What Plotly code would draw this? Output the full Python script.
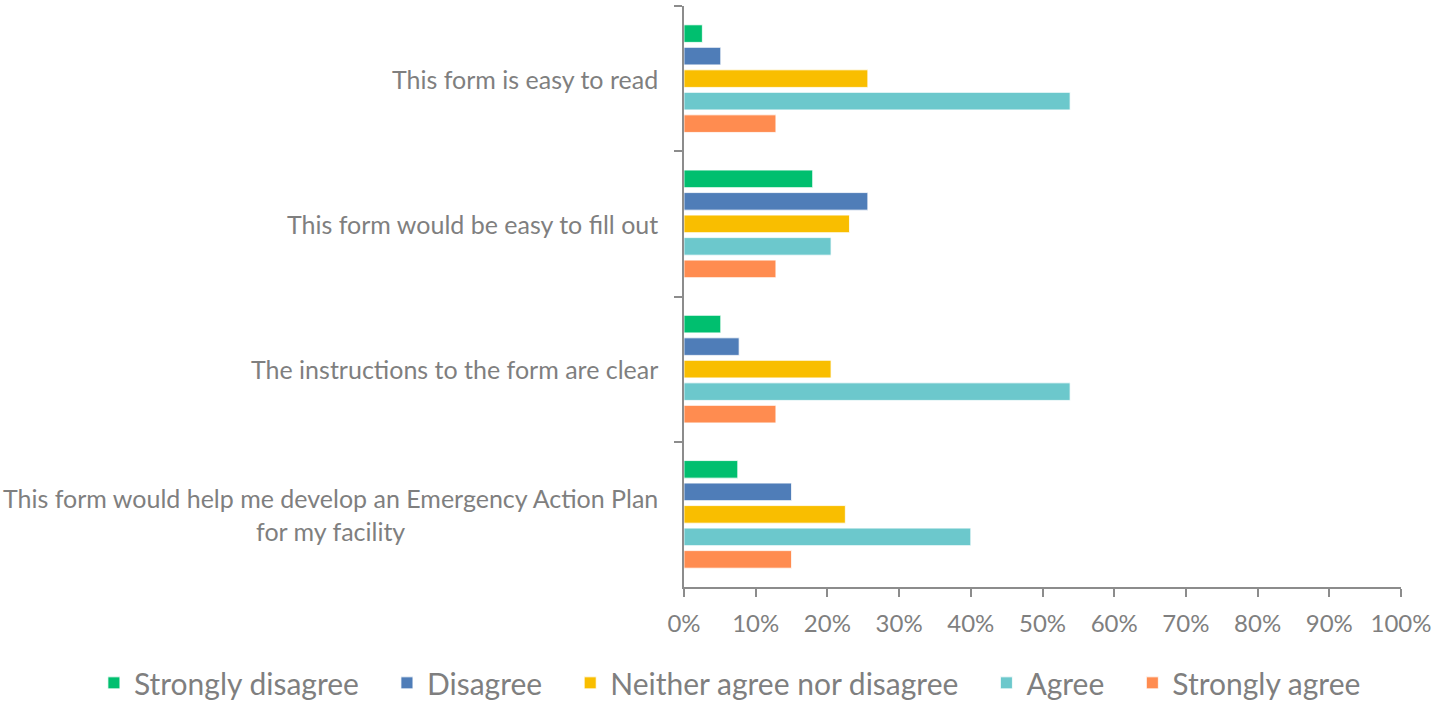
import plotly.graph_objects as go

categories = [
    "This form is easy to read",
    "This form would be easy to fill out",
    "The instructions to the form are clear",
    "This form would help me develop an Emergency Action Plan<br>for my facility",
]
series_names = ["Strongly disagree", "Disagree", "Neither agree nor disagree", "Agree", "Strongly agree"]
strongly_disagree = [0.0256, 0.1795, 0.0513, 0.075]
disagree = [0.0513, 0.2564, 0.0769, 0.15]
neither = [0.2564, 0.2308, 0.2051, 0.225]
agree = [0.5385, 0.2051, 0.5385, 0.40]
strongly_agree = [0.1282, 0.1282, 0.1282, 0.15]
series_values = [strongly_disagree, disagree, neither, agree, strongly_agree]
colors = ["#00BF6F", "#4F7DB8", "#F9BE00", "#6CC8CC", "#FF8C50"]
x_ticks = [i / 10 for i in range(11)]

FONT = "Lato, 'Open Sans', sans-serif"
GRAY = "#7F7F7F"
LINE = "#8C8C8C"
PAD = "\u00a0" * 3  # extra spacing between legend entries

fig = go.Figure()
n = len(series_names)
for i, (name, vals, col) in enumerate(zip(series_names, series_values, colors)):
    fig.add_trace(go.Bar(
        y=categories, x=vals, name=name + (PAD if i < n - 1 else ""),
        orientation="h",
        marker=dict(color=col, line=dict(color="white", width=0.8)),
    ))

for cat in categories:
    fig.add_annotation(
        x=0, xref="paper", y=cat, yref="y", text=cat, showarrow=False,
        xanchor="right", yanchor="middle", align="center", xshift=-24,
        font=dict(family=FONT, size=25, color=GRAY),
    )

fig.update_layout(
    width=1441, height=701,
    paper_bgcolor="white", plot_bgcolor="white",
    margin=dict(l=684, r=40, t=6, b=114, autoexpand=False),
    barmode="group", bargap=0.225, bargroupgap=0.22,
    font=dict(family=FONT, color=GRAY, size=24),
    showlegend=True,
    legend=dict(orientation="h", x=-0.823, xanchor="left", xref="paper",
                y=-0.165, yref="paper", yanchor="middle",
                font=dict(family=FONT, size=30, color=GRAY),
                traceorder="normal"),
)
fig.update_xaxes(
    range=[0, 1], tickvals=x_ticks, tickformat=".0%",
    showline=True, linecolor=LINE, linewidth=1.5,
    ticks="outside", ticklen=8, tickcolor=LINE, tickwidth=1.5,
    showgrid=False, zeroline=False, ticklabelstandoff=6,
    tickfont=dict(family=FONT, size=24, color=GRAY),
    automargin=False,
)
fig.update_yaxes(
    autorange="reversed", type="category",
    showline=True, linecolor=LINE, linewidth=1.5,
    ticks="outside", ticklen=8, tickcolor=LINE, tickwidth=1.5,
    tickson="boundaries", showticklabels=False,
    showgrid=False, zeroline=False, automargin=False,
)

fig.write_html("out.html", config={"displayModeBar": False},
               post_script="document.body.style.margin='0';")
